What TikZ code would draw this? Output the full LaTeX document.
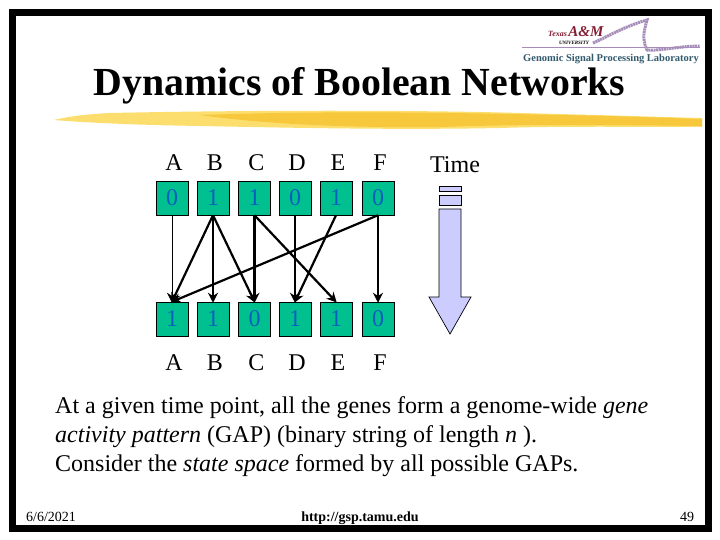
\documentclass[tikz,border=0pt]{standalone}
\usepackage{fontspec}
\setmainfont{Liberation Serif}
\usetikzlibrary{arrows.meta}
\definecolor{cellfill}{RGB}{0,192,144}
\definecolor{digit}{RGB}{10,95,190}
\definecolor{shaft}{RGB}{204,204,255}
\definecolor{gold}{RGB}{252,222,110}
\definecolor{golddark}{RGB}{247,200,60}
\definecolor{logotext}{RGB}{50,90,110}
\definecolor{logored}{RGB}{130,30,50}
\definecolor{logowave}{RGB}{165,140,185}
\tikzset{
  x=1pt,y=-1pt,
  cell/.style={draw=black,line width=.5pt,fill=cellfill,minimum width=32pt,minimum height=34pt,inner sep=0pt,text=digit,font=\fontsize{24}{24}\selectfont,anchor=center},
  head/.style={font=\fontsize{24}{24}\selectfont,inner sep=0pt,anchor=base},
  link/.style={draw=black,line width=2.2pt,-{Stealth[length=10pt,width=10pt]},shorten >=-1pt},
  thinlink/.style={link,line width=.7pt},
  shaftbox/.style={draw=black,line width=.7pt,fill=shaft},
  bodyline/.style={font=\fontsize{24}{24}\selectfont,inner sep=0pt,anchor=base west},
  foot/.style={font=\fontsize{14}{14}\selectfont,inner sep=0pt,anchor=base}
}
\begin{document}
\begin{tikzpicture}
\useasboundingbox (0,0) rectangle (720,540);
\fill[white] (0,0) rectangle (720,540);
% slide frame
\draw[black,line width=7pt] (12.5,12.5) rectangle (708.5,528.5);
% brush stroke
\fill[gold] (54,120) .. controls (70,116) and (90,114) .. (110,113)
  .. controls (250,110) and (420,110) .. (520,113)
  .. controls (600,115) and (660,117) .. (702,118)
  -- (702,127) .. controls (640,127) and (560,126) .. (500,128)
  .. controls (400,130) and (300,128) .. (200,126)
  .. controls (140,125) and (90,123) .. (54,120) -- cycle;
\fill[golddark] (200,115) .. controls (320,111) and (420,112) .. (560,115)
  .. controls (620,116) and (670,118) .. (702,119)
  -- (702,126) .. controls (620,125) and (520,124) .. (440,127)
  .. controls (360,128) and (270,125) .. (200,115) -- cycle;
% logo
\draw[logowave,line width=.9pt] (522,47) -- (700,47);
\draw[logowave,line width=3pt,dash pattern=on 2pt off .6pt] (593,43) .. controls (605,38) and (625,26) .. (647,20)
  .. controls (645,28) and (641,38) .. (647,50) .. controls (660,51) and (680,46) .. (700,46);
\node[font=\fontsize{15}{15}\bfseries\itshape\selectfont,text=logored,inner sep=0pt,anchor=base west] (logoam) at (548,37) {\fontsize{8}{8}\selectfont Texas\,\fontsize{15}{15}\selectfont A\&M};
\node[font=\fontsize{5}{5}\bfseries\itshape\selectfont,text=black,inner sep=0pt,anchor=base] (logouni) at (574,44.5) {UNIVERSITY};
\node[font=\fontsize{10.5}{12}\bfseries\selectfont,text=logotext,inner sep=0pt,anchor=base west] (logolab) at (523,62) {Genomic Signal Processing Laboratory};
% title
\node[font=\fontsize{39.8}{40}\bfseries\selectfont,inner sep=0pt,anchor=base] (title) at (359.5,96) {Dynamics of Boolean Networks};
% top row
\foreach \n/\l/\v/\x in {a/A/0/172,b/B/1/213,c/C/1/254.5,d/D/0/295,e/E/1/336,f/F/0/378}{
  \node[head] (h\n) at (\x+2,171) {\l};
  \node[cell] (t\n) at (\x,198) {\v};
}
% bottom row
\foreach \n/\l/\v/\x in {a/A/1/172,b/B/1/213,c/C/0/254.5,d/D/1/295,e/E/1/336,f/F/0/378}{
  \node[cell] (u\n) at (\x,319) {\v};
  \node[head] (l\n) at (\x+2,370) {\l};
}
% connectors
\draw[thinlink] (ta.south) -- (ua.north);
\draw[link] (tb.south) -- (ua.north);
\draw[link] (tb.south) -- (ub.north);
\draw[link] (tb.south) -- (uc.north);
\draw[link] (tc.south) -- (uc.north);
\draw[link] (tc.south) -- (ue.north);
\draw[link] (td.south) -- (ud.north);
\draw[link] (te.south) -- (ud.north);
\draw[link] (tf.south) -- (uf.north);
\draw[link] (tf.south) -- (ua.north);
% time
\node[head] (time) at (455,173) {Time};
\draw[shaftbox] (439,186) rectangle (461,191);
\draw[shaftbox] (439,195) rectangle (461,205);
\draw[shaftbox] (439,209) -- (461,209) -- (461,297) -- (471,297) -- (450,334) -- (429,297) -- (439,297) -- cycle;
% text
\node[bodyline] (line1) at (55,413) {At a given time point, all the genes form a genome-wide \textit{gene}};
\node[bodyline] (line2) at (55,442) {\textit{activity pattern} (GAP) (binary string of length \textit{n} ).};
\node[bodyline] (line3) at (55,471) {Consider the \textit{state space} formed by all possible GAPs.};
% footer
\node[foot] (date) at (51,521) {6/6/2021};
\node[foot,font=\fontsize{14}{14}\bfseries\selectfont] (url) at (360,521) {http://gsp.tamu.edu};
\node[foot] (page) at (687,521) {49};
\end{tikzpicture}
\end{document}
